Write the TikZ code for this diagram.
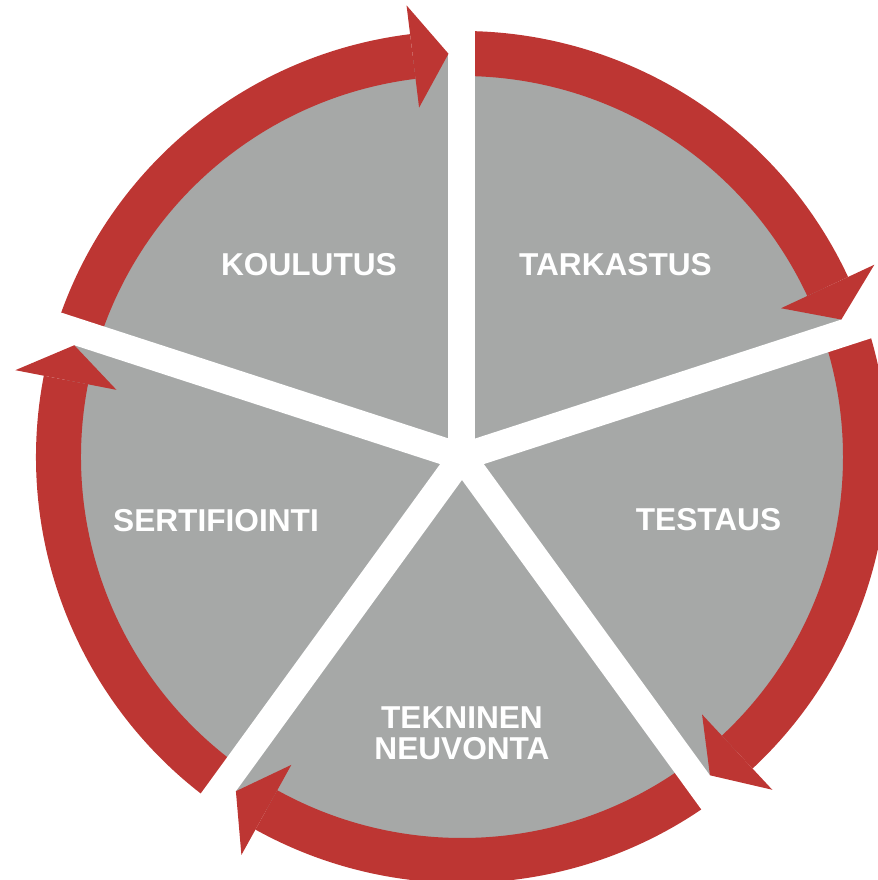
\documentclass[tikz,border=0pt]{standalone}
\usepackage{fontspec}
\setmainfont{Liberation Sans}
\definecolor{cycle_red}{RGB}{189,54,51}
\definecolor{cycle_gray}{RGB}{166,168,167}

\begin{document}
\begin{tikzpicture}[
    band/.style={fill=cycle_red},
    head/.style={fill=cycle_red},
    gapline/.style={white, line width=0.27cm},
    sectortext/.style={text=white, align=center,
      font=\fontsize{9}{8.8}\selectfont\bfseries}]
        \useasboundingbox (-4.62,-4.23) rectangle (4.15,4.57);
        \fill[cycle_gray] (0,0) circle (4.03);
        % red bands, clockwise
        \fill[band] (90:3.81) arc[start angle=90, end angle=25, radius=3.81]
          -- (25:4.26) arc[start angle=25, end angle=90, radius=4.26] -- cycle;
        \fill[band] (18:3.81) arc[start angle=18, end angle=-47, radius=3.81]
          -- (-47:4.26) arc[start angle=-47, end angle=18, radius=4.26] -- cycle;
        \fill[band] (-54:3.81) arc[start angle=-54, end angle=-119, radius=3.81]
          -- (-119:4.26) arc[start angle=-119, end angle=-54, radius=4.26] -- cycle;
        \fill[band] (-126:3.81) arc[start angle=-126, end angle=-191, radius=3.81]
          -- (-191:4.26) arc[start angle=-191, end angle=-126, radius=4.26] -- cycle;
        \fill[band] (162:3.81) arc[start angle=162, end angle=97, radius=3.81]
          -- (97:4.26) arc[start angle=97, end angle=162, radius=4.26] -- cycle;
        % white gaps
        \coordinate (hub) at (0,0);
        \coordinate (g1) at (90:4.8);
        \coordinate (g2) at (18:4.8);
        \coordinate (g3) at (-54:4.8);
        \coordinate (g4) at (-126:4.8);
        \coordinate (g5) at (162:4.8);
        \draw[gapline] (hub) -- (g1);
        \draw[gapline] (hub) -- (g2);
        \draw[gapline] (hub) -- (g3);
        \draw[gapline] (hub) -- (g4);
        \draw[gapline] (hub) -- (g5);
        % arrow heads
        \fill[head] (25:4.55) -- (19.92:4.035) -- (25:3.52) -- cycle;
        \fill[head] (-47:4.55) -- (-52.08:4.035) -- (-47:3.52) -- cycle;
        \fill[head] (-119:4.55) -- (-124.08:4.035) -- (-119:3.52) -- cycle;
        \fill[head] (169:4.55) -- (163.92:4.035) -- (169:3.52) -- cycle;
        \fill[head] (97:4.55) -- (91.92:4.035) -- (97:3.52) -- cycle;
        % labels
        \node[sectortext] (koulutus) at (-1.53,1.92) {KOULUTUS};
        \node[sectortext] (tarkastus) at (1.535,1.92) {TARKASTUS};
        \node[sectortext] (testaus) at (2.465,-0.63) {TESTAUS};
        \node[sectortext] (sertifiointi) at (-2.46,-0.64) {SERTIFIOINTI};
        \node[sectortext] (neuvonta) at (0,-2.765) {TEKNINEN\\NEUVONTA};
\end{tikzpicture}
\end{document}
